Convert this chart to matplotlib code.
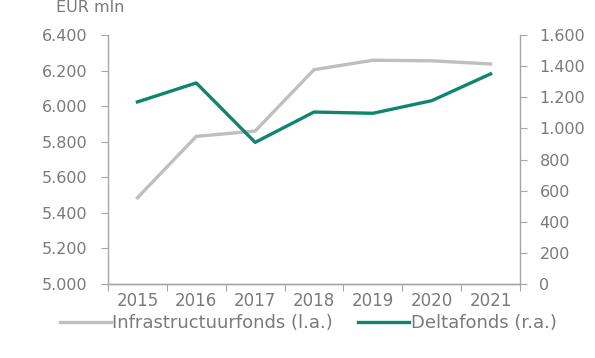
import numpy as np
import matplotlib.pyplot as plt
from matplotlib.ticker import FuncFormatter

plt.rcParams['font.family'] = ['DejaVu Sans']

years = ['2015', '2016', '2017', '2018', '2019', '2020', '2021']
infra = [5485, 5830, 5860, 6205, 6258, 6255, 6237]
delta = [1170, 1292, 910, 1105, 1097, 1178, 1350]

grey = '#BFBFBF'
teal = '#0E8571'
axis_col = '#A6A6A6'
text_col = '#7A7A7A'

def dutch(v, pos):
    return f'{v:,.0f}'.replace(',', '.')

fig = plt.figure(figsize=(5.95, 3.58), dpi=100)
ax = fig.add_axes([108 / 595, 1 - 284 / 358, 412 / 595, 249 / 358])
ax2 = ax.twinx()

x = np.arange(len(years))
ax.plot(x, infra, color=grey, lw=2.4, solid_joinstyle='round', zorder=2)
ax2.plot(x, delta, color=teal, lw=2.4, solid_joinstyle='round', zorder=3)

ax.set_xlim(-0.5, len(years) - 0.5)
ax.set_ylim(5000, 6400)
ax.set_yticks(np.arange(5000, 6401, 200))
ax2.set_ylim(0, 1600)
ax2.set_yticks(np.arange(0, 1601, 200))
ax.yaxis.set_major_formatter(FuncFormatter(dutch))
ax2.yaxis.set_major_formatter(FuncFormatter(dutch))

# category ticks sit between the years, labels centred on each year
ax.set_xticks(np.arange(-0.5, len(years), 1.0))
ax.set_xticklabels([])
ax.set_xticks(x, minor=True)
ax.set_xticklabels(years, minor=True)

for a in (ax, ax2):
    a.spines['top'].set_visible(False)
    for side in ('left', 'right', 'bottom'):
        a.spines[side].set_color(axis_col)
        a.spines[side].set_linewidth(1.0)
    a.tick_params(which='both', colors=axis_col, labelcolor=text_col, labelsize=11.5,
                  length=5, width=0.8)
ax.tick_params(axis='x', which='minor', length=0, pad=6, labelsize=12)
ax.tick_params(axis='y', pad=10)
ax2.tick_params(axis='y', pad=9)
ax2.spines['left'].set_visible(False)
ax.spines['right'].set_visible(False)

fig.text(56 / 595, 1 - 7 / 358, 'EUR mln', color=text_col, fontsize=11.5, va='center', ha='left')

h1, = ax.plot([], [], color=grey, lw=2.4)
h2, = ax.plot([], [], color=teal, lw=2.4)
fig.legend([h1, h2], ['Infrastructuurfonds (l.a.)', 'Deltafonds (r.a.)'],
           loc='center left', bbox_to_anchor=(60 / 595, 1 - 323 / 358), ncol=2, frameon=False,
           fontsize=13, labelcolor=text_col, handlelength=2.8, handletextpad=0.1,
           columnspacing=1.4, borderaxespad=0, borderpad=0)

fig.savefig('out.png', dpi=100)
